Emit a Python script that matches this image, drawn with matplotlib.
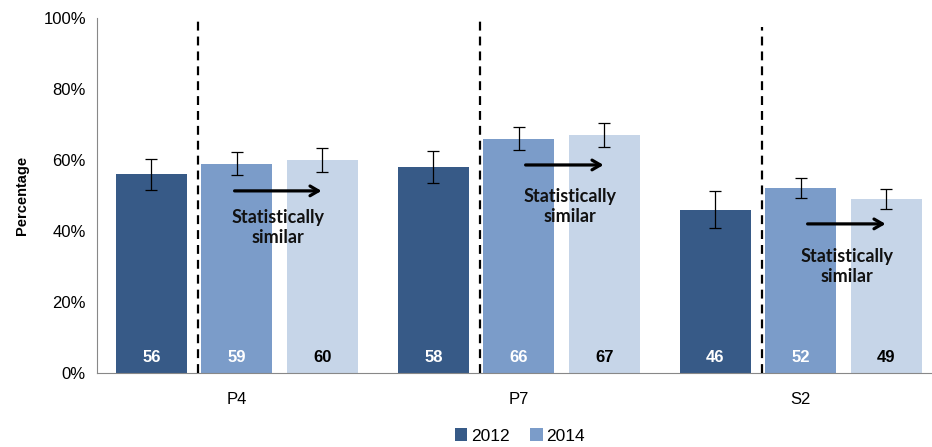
import matplotlib
matplotlib.use("Agg")
import matplotlib.pyplot as plt
import numpy as np

categories = ["P4", "P7", "S2"]
series_names = ["2012", "2014", "2014b"]
values_2012 = [56, 58, 46]
values_2014 = [59, 66, 52]
values_2014b = [60, 67, 49]
err_2012 = [4.4, 4.6, 5.2]
err_2014 = [3.3, 3.3, 2.8]
err_2014b = [3.4, 3.3, 2.8]
arrow_levels = [51.3, 58.6, 42.0]
text_levels = [41.0, 46.8, 30.1]
text_offsets = [0.145, 0.18, 0.163]
dash_tops = [100, 100, 97.5]
yticks = [0, 20, 40, 60, 80, 100]
ytick_labels = ["0%", "20%", "40%", "60%", "80%", "100%"]

colors = ["#375A87", "#7B9CC9", "#C6D5E8"]
label_colors = ["white", "white", "black"]

plt.rcParams['font.family'] = ['Liberation Sans', 'DejaVu Sans']

fig = plt.figure(figsize=(9.32, 4.47), dpi=100)
ax = fig.add_axes([97/932, 74/447, (932-97)/932, 355/447])

x = np.arange(len(categories))
width = 0.252
offsets = [-0.303, 0.0, 0.303]
all_vals = [values_2012, values_2014, values_2014b]
all_errs = [err_2012, err_2014, err_2014b]

for i, (vals, errs) in enumerate(zip(all_vals, all_errs)):
    xs = x + offsets[i]
    lbl = series_names[i] if i < 2 else "_nolegend_"
    ax.bar(xs, vals, width, color=colors[i], label=lbl, zorder=2)
    ax.errorbar(xs, vals, yerr=errs, fmt='none', ecolor='black',
                elinewidth=0.9, capsize=4, capthick=0.9, zorder=4)
    for xi, v in zip(xs, vals):
        ax.text(xi, 4.5, f"{v}", ha='center', va='center', fontsize=12,
                fontweight='bold', color=label_colors[i], zorder=5)

for gi in range(len(categories)):
    ax.plot([gi - 0.138, gi - 0.138], [0, dash_tops[gi]], color='black',
            lw=1.6, dashes=(4.0, 2.7), zorder=3, clip_on=False)
    ax.annotate("", xy=(gi + 0.31, arrow_levels[gi]),
                xytext=(gi - 0.018 if gi == 0 else gi + 0.014, arrow_levels[gi]),
                arrowprops=dict(arrowstyle="->,head_length=0.6,head_width=0.35",
                                lw=2.3, color='black'), zorder=6)
    ax.text(gi + text_offsets[gi], text_levels[gi], "Statistically\nsimilar",
            ha='center', va='center', fontsize=13, fontweight='bold',
            family=['Lato', 'DejaVu Sans'], linespacing=1.2, color='#111111', zorder=6)

ax.set_xlim(-0.496, 2.465)
ax.set_ylim(0, 100)
ax.set_yticks(yticks)
ax.set_yticklabels(ytick_labels, fontsize=12)
ax.set_xticks(x)
ax.set_xticklabels(categories, fontsize=12)
ax.tick_params(axis='both', length=0, pad=8)
ax.tick_params(axis='x', pad=14)
for s in ['top', 'right']:
    ax.spines[s].set_visible(False)
ax.spines['left'].set_color('#888888')
ax.spines['bottom'].set_color('#888888')
ax.set_ylabel("Percentage", fontsize=10.5, fontweight='bold', labelpad=10)

fig.legend(loc='center', bbox_to_anchor=(520/932, 1 - 436/447), ncol=2,
           frameon=False, fontsize=12.5, handlelength=0.7, handleheight=0.7,
           handletextpad=0.2, columnspacing=1.2)

fig.savefig("out.png", dpi=100)
